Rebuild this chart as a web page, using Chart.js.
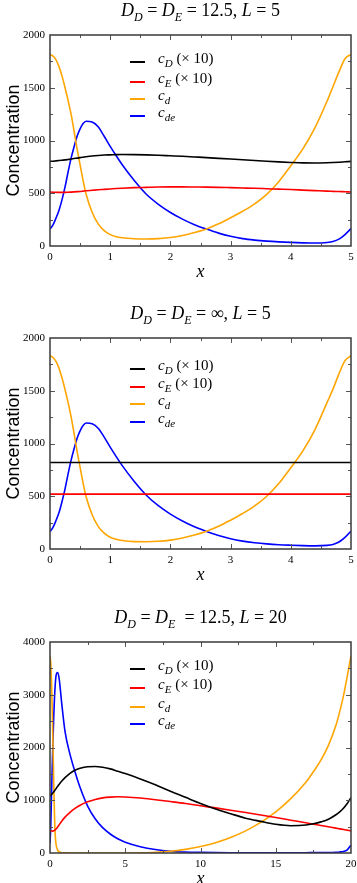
<!DOCTYPE html>
<html>
<head>
<meta charset="utf-8">
<script src="https://cdn.jsdelivr.net/npm/chart.js@4.4.1/dist/chart.umd.min.js"></script>
<style>
  html, body { margin: 0; padding: 0; width: 357px; height: 883px; overflow: hidden; background: #fff; }
  .panel { position: absolute; left: 0; width: 357px; height: 290px; overflow: hidden; }
  .panel canvas { position: absolute; left: 0; top: 0; }
  .title {
    position: absolute; left: 50px; width: 301px; top: 1px; text-align: center;
    font: italic 18px 'Liberation Serif', 'Times New Roman', serif; line-height: 18px; color: #000; white-space: nowrap;
  }
  .title .up { font-style: normal; }
  .title .sub { position: relative; top: 5px; font-size: 12px; }
  .leg { position: absolute; left: 130px; height: 20px; width: 120px; }
  .leg .sw { position: absolute; left: 0; top: 11px; width: 15px; height: 2px; }
  .leg .tx {
    position: absolute; left: 28px; top: 0; line-height: 20px; white-space: nowrap;
    font: 15px 'Liberation Serif', 'Times New Roman', serif; color: #000;
  }
  .leg .tx i.sub { position: relative; top: 4px; font-size: 11px; }
</style>
</head>
<body>

<div class="panel" id="p1" style="top:0px">
  <canvas id="chart1" width="357" height="290"></canvas>
  <div class="title">D<span class="sub">D</span><span class="up"> = </span>D<span class="sub">E</span><span class="up"> = 12.5, </span>L<span class="up"> = 5</span></div>
</div>

<div class="panel" id="p2" style="top:303px">
  <canvas id="chart2" width="357" height="290"></canvas>
  <div class="title">D<span class="sub">D</span><span class="up"> = </span>D<span class="sub">E</span><span class="up"> = ∞, </span>L<span class="up"> = 5</span></div>
</div>

<div class="panel" id="p3" style="top:607px; height:276px">
  <canvas id="chart3" width="357" height="290"></canvas>
  <div class="title">D<span class="sub">D</span><span class="up"> = </span>D<span class="sub">E</span><span class="up"> &nbsp;= 12.5, </span>L<span class="up"> = 20</span></div>
</div>

<script>
// ---- 数据 (c_D, c_E 已乘 10) ----

// panel 1: D_D = D_E = 12.5, L = 5
const x1 = [0, 0.05, 0.1, 0.15, 0.2, 0.25, 0.3, 0.35, 0.4, 0.45, 0.5, 0.55, 0.6, 0.7, 0.8, 0.9, 1.0, 1.1, 1.2, 1.4,
            1.6, 1.8, 2.0, 2.2, 2.4, 2.6, 2.8, 3.0, 3.2, 3.4, 3.6, 3.8, 4.0, 4.2, 4.4, 4.6, 4.7, 4.8, 4.9, 5.0];
const cD1 = [802, 804, 807, 810, 813, 816, 820, 824, 829, 833, 838, 842, 846, 853, 858, 862, 864, 866, 867, 866,
             864, 860, 855, 850, 844, 838, 831, 824, 817, 810, 803, 797, 792, 788, 787, 789, 791, 794, 798, 802];
const cE1 = [512, 510, 509, 508, 508, 508, 509, 511, 513, 515, 517, 520, 523, 528, 533, 537, 541, 545, 548, 553,
             556, 559, 560, 560, 559, 558, 556, 553, 550, 547, 543, 539, 535, 530, 525, 520, 518, 516, 514, 512];
const cd1 = [1815, 1800, 1765, 1700, 1610, 1500, 1380, 1250, 1090, 920, 770, 620, 490, 320, 210, 145, 108, 88, 78, 68,
             66, 70, 80, 100, 128, 162, 210, 268, 330, 400, 490, 610, 760, 920, 1120, 1370, 1510, 1650, 1775, 1815];
const cde1 = [160, 200, 265, 340, 440, 560, 700, 830, 940, 1040, 1110, 1160, 1182, 1175, 1130, 1040, 945, 855, 770, 620,
              490, 395, 318, 255, 202, 160, 122, 92, 70, 56, 46, 39, 34, 30, 28, 33, 42, 65, 108, 165];

// panel 2: D_D = D_E = ∞, L = 5
const x2 = x1;
const xFlat2 = [0, 5];
const cD2 = [820, 820];
const cE2 = [520, 520];
const cd2 = [1832, 1815, 1778, 1712, 1620, 1510, 1390, 1255, 1095, 925, 775, 625, 495, 325, 215, 150, 112, 92, 80, 70,
             69, 73, 84, 104, 132, 168, 215, 273, 336, 408, 500, 620, 770, 930, 1130, 1385, 1515, 1660, 1785, 1832];
const cde2 = [165, 205, 270, 345, 450, 570, 710, 840, 950, 1050, 1120, 1170, 1195, 1188, 1145, 1060, 965, 875, 790, 640,
              510, 410, 330, 265, 210, 166, 128, 97, 75, 60, 49, 41, 36, 32, 30, 34, 43, 66, 110, 170];

// panel 3: D_D = D_E = 12.5, L = 20
const x3 = [0, 0.05, 0.1, 0.15, 0.2, 0.25, 0.3, 0.35, 0.4, 0.5, 0.6, 0.8, 1.0, 1.33, 1.66, 2.0, 2.5, 3.0, 3.5, 4.0,
            4.5, 5, 6, 7, 8, 9, 10, 11, 12, 13, 14, 15, 16, 17, 17.5, 18, 18.5, 19, 19.25, 19.5, 19.75, 20];
const cD3 = [1080, 1095, 1110, 1125, 1140, 1160, 1180, 1200, 1220, 1260, 1300, 1370, 1430, 1510, 1570, 1605, 1635, 1640, 1625, 1595,
             1550, 1505, 1405, 1295, 1170, 1055, 940, 835, 745, 660, 600, 545, 518, 530, 555, 590, 640, 725, 780, 850, 940, 1050];
const cE3 = [420, 418, 416, 415, 417, 422, 430, 442, 455, 490, 530, 610, 680, 770, 845, 905, 970, 1015, 1045, 1060,
             1066, 1063, 1043, 1010, 975, 938, 895, 855, 812, 767, 720, 672, 622, 572, 546, 521, 496, 471, 458, 446, 433, 420];
const cd3 = [3740, 3600, 3250, 2700, 2000, 1300, 700, 330, 170, 60, 25, 6, 2, 0, 0, 0, 0, 0, 0, 0,
             0, 0, 4, 14, 34, 68, 122, 196, 295, 420, 580, 780, 1030, 1340, 1540, 1760, 2040, 2420, 2680, 2980, 3350, 3740];
const cde3 = [180, 500, 1100, 1650, 2150, 2600, 2950, 3200, 3360, 3420, 3320, 2780, 2300, 1870, 1540, 1240, 890, 650, 480, 360,
              270, 205, 120, 66, 34, 18, 11, 7, 5, 4, 4, 4, 5, 6, 7, 8, 10, 15, 20, 30, 60, 150];

const legendLabels = ['D (× 10)', 'E (× 10)', 'd', 'de'];
const colors = ['#000000', '#ff0000', '#ffa500', '#0000ff'];

const SERIF = "'Liberation Serif', 'Times New Roman', serif";
const SANS = "'Liberation Sans', Arial, sans-serif";
const FRAME = '#3a3a3a';

// 画框和内向刻度 (四边)
const frameTicks = {
  id: 'frameTicks',
  afterDatasetsDraw(chart) {
    const { ctx, chartArea: a, scales: { x, y } } = chart;
    const o = chart.options.plugins.frameTicks;
    ctx.save();
    ctx.strokeStyle = '#555';
    ctx.lineWidth = 1;
    ctx.beginPath();
    const nx = Math.round((x.max - x.min) / (o.xStep / 2));
    for (let i = 1; i < nx; i++) {
      const px = Math.round(x.getPixelForValue(x.min + i * o.xStep / 2)) + 0.5;
      const len = i % 2 === 0 ? 5 : 3;
      ctx.moveTo(px, a.bottom); ctx.lineTo(px, a.bottom - len);
      ctx.moveTo(px, a.top); ctx.lineTo(px, a.top + len);
    }
    const ny = Math.round((y.max - y.min) / (o.yStep / 2));
    for (let i = 1; i < ny; i++) {
      const py = Math.round(y.getPixelForValue(y.min + i * o.yStep / 2)) + 0.5;
      const len = i % 2 === 0 ? 5 : 3;
      ctx.moveTo(a.left, py); ctx.lineTo(a.left + len, py);
      ctx.moveTo(a.right, py); ctx.lineTo(a.right - len, py);
    }
    ctx.stroke();
    ctx.strokeStyle = FRAME;
    ctx.lineWidth = 1.5;
    ctx.strokeRect(a.left, a.top, a.right - a.left, a.bottom - a.top);
    ctx.restore();
  }
};

function series(xs, ys, i) {
  return {
    label: legendLabels[i],
    data: xs.map((x, k) => ({ x, y: ys[k] })),
    borderColor: colors[i],
    borderWidth: 1.6,
    pointRadius: 0,
    cubicInterpolationMode: 'monotone',
    fill: false,
  };
}

function makeChart(id, datasets, xMax, xStep, yMax, yStep) {
  return new Chart(document.getElementById(id), {
    type: 'line',
    data: { datasets },
    plugins: [frameTicks],
    options: {
      responsive: false,
      animation: false,
      devicePixelRatio: 1,
      layout: { padding: { top: 35, right: 6, left: 0, bottom: 0 } },
      scales: {
        x: {
          type: 'linear', min: 0, max: xMax,
          grid: { display: false, drawTicks: false },
          border: { display: false },
          ticks: { stepSize: xStep, padding: 5, color: '#000', font: { family: SERIF, size: 11 },
                   callback: (v) => String(v) },
          title: { display: true, text: 'x', color: '#000', padding: { top: 0, bottom: 7 },
                   font: { family: SERIF, size: 18, style: 'italic' } },
          afterFit: (s) => { s.height = 44; s.paddingLeft = 0; s.paddingRight = 0; },
        },
        y: {
          min: 0, max: yMax,
          grid: { display: false, drawTicks: false },
          border: { display: false },
          ticks: { stepSize: yStep, padding: 5, color: '#000', font: { family: SERIF, size: 11 },
                   callback: (v) => String(v) },
          title: { display: true, text: 'Concentration', color: '#000', padding: { top: 3, bottom: 0 },
                   font: { family: SANS, size: 18 } },
          afterFit: (s) => { s.width = 50; s.paddingTop = 0; s.paddingBottom = 0; },
        },
      },
      plugins: {
        legend: { display: false },
        tooltip: { enabled: false },
        frameTicks: { xStep, yStep },
      },
    },
  });
}

// 图例 (带下标, 用 HTML)
function addLegend(panelId, rowsY) {
  const panel = document.getElementById(panelId);
  rowsY.forEach((ly, i) => {
    const parts = legendLabels[i].split(' ');
    const rest = parts.slice(1).join(' ');
    const row = document.createElement('div');
    row.className = 'leg';
    row.style.top = (ly - 12) + 'px';
    row.innerHTML = `<span class="sw" style="background:${colors[i]}"></span>` +
      `<span class="tx"><i>c</i><i class="sub">${parts[0]}</i>${rest ? ' ' + rest : ''}</span>`;
    panel.appendChild(row);
  });
}

makeChart('chart1', [series(x1, cD1, 0), series(x1, cE1, 1), series(x1, cd1, 2), series(x1, cde1, 3)], 5, 1, 2000, 500);
makeChart('chart2', [series(xFlat2, cD2, 0), series(xFlat2, cE2, 1), series(x2, cd2, 2), series(x2, cde2, 3)], 5, 1, 2000, 500);
makeChart('chart3', [series(x3, cD3, 0), series(x3, cE3, 1), series(x3, cd3, 2), series(x3, cde3, 3)], 20, 5, 4000, 1000);

addLegend('p1', [62, 81.5, 99, 116]);
addLegend('p2', [66, 83.5, 101, 119]);
addLegend('p3', [62, 81, 99.5, 116.5]);
</script>
</body>
</html>
